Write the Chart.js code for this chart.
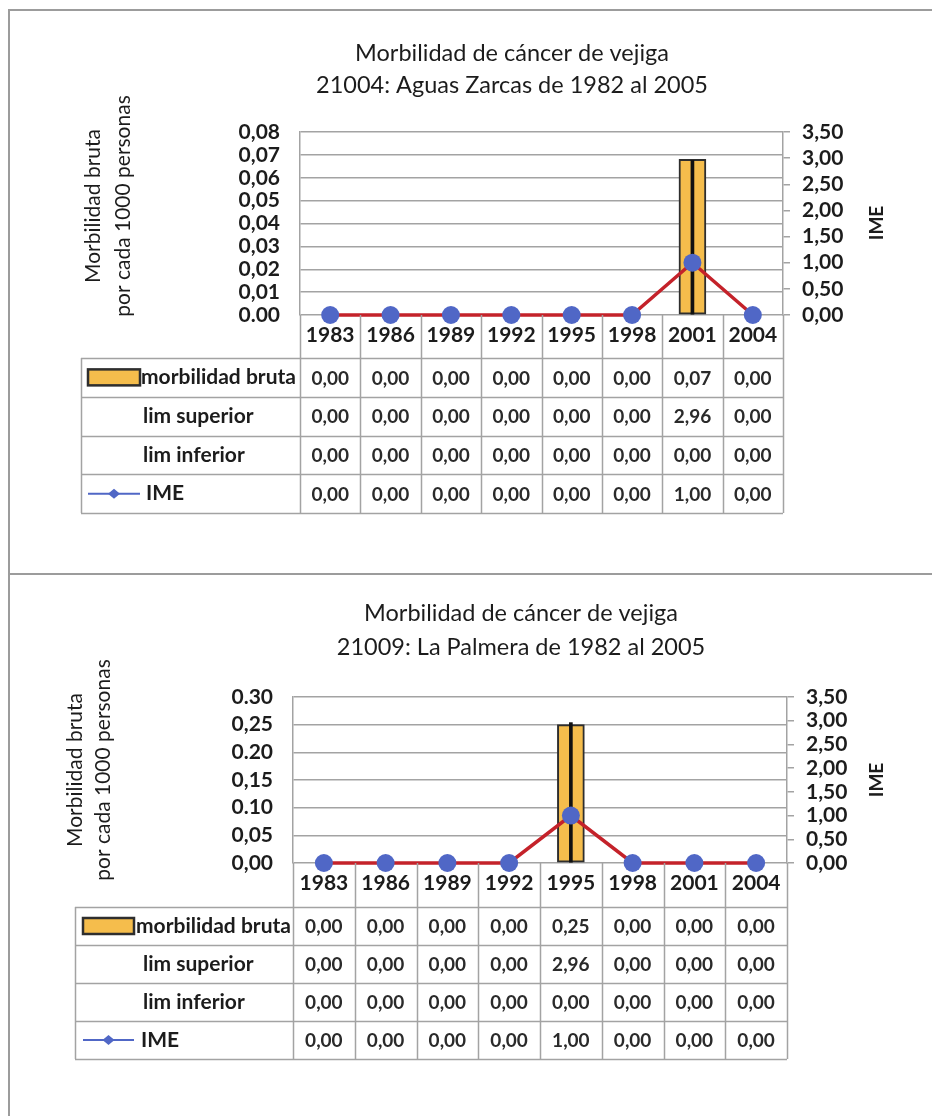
<!DOCTYPE html>
<html>
<head>
<meta charset="utf-8">
<script src="https://cdn.jsdelivr.net/npm/chart.js@4.4.0/dist/chart.umd.min.js"></script>
<style>
  html, body { margin: 0; padding: 0; background: #fff; }
  #page { position: relative; width: 932px; height: 1116px; overflow: hidden; background: #fff; }
  .rule { position: absolute; background: #9c9c9c; }
  canvas { position: absolute; left: 0; }
</style>
</head>
<body>
<div id="page">
  <div class="rule" style="left:8px;top:9px;width:924px;height:2px"></div>
  <div class="rule" style="left:8px;top:9px;width:2px;height:1107px"></div>
  <div class="rule" style="left:8px;top:573px;width:924px;height:2px"></div>
  <canvas id="chartAZ" width="932" height="574" style="top:0"></canvas>
  <canvas id="chartLP" width="932" height="541" style="top:575px"></canvas>
</div>
<script>
// Periods (category axis)
const years = ['1983', '1986', '1989', '1992', '1995', '1998', '2001', '2004'];

// 21004: Aguas Zarcas
const morbAZ = [0, 0, 0, 0, 0, 0, 0.068, 0];
const supAZ  = [0, 0, 0, 0, 0, 0, 2.96, 0];
const infAZ  = [0, 0, 0, 0, 0, 0, 0, 0];
const imeAZ  = [0, 0, 0, 0, 0, 0, 1, 0];

// 21009: La Palmera
const morbLP = [0, 0, 0, 0, 0.25, 0, 0, 0];
const supLP  = [0, 0, 0, 0, 2.96, 0, 0, 0];
const infLP  = [0, 0, 0, 0, 0, 0, 0, 0];
const imeLP  = [0, 0, 0, 0, 1, 0, 0, 0];

// Axis tick labels
const leftTicksAZ = ['0.00', '0,01', '0,02', '0,03', '0,04', '0,05', '0,06', '0,07', '0,08'];
const leftTicksLP = ['0,00', '0,05', '0.10', '0,15', '0.20', '0,25', '0.30'];
const rightTicks  = ['0,00', '0,50', '1,00', '1,50', '2,00', '2,50', '3,00', '3,50'];

const FONT = 'Lato, "Open Sans", sans-serif';
const BAR_FILL = '#f5bd4c';
const BAR_EDGE = '#2e2e2e';
const LINE_RED = '#c4222a';
const DOT_BLUE = '#5067c6';
const GRID = '#a3a3a3';
const INK = '#1c1c1c';

const fmt = v => v.toFixed(2).replace('.', ',');

// Draws titles, axis captions and the data table under the plot
function makeDecor(spec) {
  return {
    id: 'decor',
    afterDraw(chart) {
      const ctx = chart.ctx;
      const area = chart.chartArea;
      const xs = chart.scales.x;
      const half = (xs.getPixelForValue(1) - xs.getPixelForValue(0)) / 2;
      const nRows = spec.rows.length;
      const tableBottom = spec.rowTop + nRows * spec.rowH;

      ctx.save();
      // chart title
      ctx.fillStyle = INK;
      ctx.textAlign = 'center';
      ctx.textBaseline = 'middle';
      ctx.font = '23.5px ' + FONT;
      spec.title.forEach((t, i) => ctx.fillText(t, spec.titleX, spec.titleY[i]));

      // left axis caption (two lines, rotated)
      ctx.font = '21px ' + FONT;
      spec.yTitle.forEach((t, i) => {
        ctx.save();
        ctx.translate(spec.yTitleX[i], spec.yTitleY);
        ctx.rotate(-Math.PI / 2);
        ctx.fillText(t, 0, 0);
        ctx.restore();
      });

      // right axis caption
      ctx.font = 'bold 19px ' + FONT;
      ctx.save();
      ctx.translate(spec.rTitleX, spec.rTitleY);
      ctx.rotate(-Math.PI / 2);
      ctx.fillText('IME', 0, 0);
      ctx.restore();

      // table grid
      ctx.strokeStyle = GRID;
      ctx.lineWidth = 1.5;
      ctx.beginPath();
      for (let i = 0; i <= years.length; i++) {
        const xb = Math.round(xs.getPixelForValue(0) - half + i * 2 * half) + 0.5;
        ctx.moveTo(xb, area.bottom);
        ctx.lineTo(xb, tableBottom);
      }
      for (let r = 0; r <= nRows; r++) {
        const yb = Math.round(spec.rowTop + r * spec.rowH) + 0.5;
        ctx.moveTo(spec.tableLeft, yb);
        ctx.lineTo(area.right, yb);
      }
      ctx.moveTo(spec.tableLeft + 0.5, spec.rowTop);
      ctx.lineTo(spec.tableLeft + 0.5, tableBottom);
      ctx.stroke();

      // rows
      spec.rows.forEach((row, r) => {
        const cy = spec.rowTop + (r + 0.5) * spec.rowH;
        const k0 = spec.tableLeft + spec.keyInset;
        const k1 = k0 + spec.keyWidth;
        if (row.key === 'bar') {
          ctx.fillStyle = BAR_FILL;
          ctx.strokeStyle = BAR_EDGE;
          ctx.lineWidth = 2.5;
          ctx.fillRect(k0, cy - 8, k1 - k0, 16);
          ctx.strokeRect(k0, cy - 8, k1 - k0, 16);
        } else if (row.key === 'line') {
          ctx.strokeStyle = DOT_BLUE;
          ctx.lineWidth = 2;
          ctx.beginPath();
          ctx.moveTo(k0, cy);
          ctx.lineTo(k1, cy);
          ctx.stroke();
          const mx = (k0 + k1) / 2;
          ctx.fillStyle = DOT_BLUE;
          ctx.beginPath();
          ctx.moveTo(mx, cy - 5);
          ctx.lineTo(mx + 6, cy);
          ctx.lineTo(mx, cy + 5);
          ctx.lineTo(mx - 6, cy);
          ctx.closePath();
          ctx.fill();
        }
        ctx.fillStyle = INK;
        ctx.textAlign = 'left';
        ctx.font = 'bold 21px ' + FONT;
        ctx.fillText(row.label, row.labelX, cy);
        ctx.textAlign = 'center';
        ctx.font = 'bold 19px ' + FONT;
        row.values.forEach((v, i) => {
          ctx.fillStyle = '#2a2a2a';
          ctx.fillText(fmt(v), xs.getPixelForValue(i), cy + 1);
        });
      });
      ctx.restore();
    }
  };
}

function buildChart(canvasId, d) {
  const leftTicks = d.leftTicks;
  return new Chart(document.getElementById(canvasId), {
    data: {
      labels: years,
      datasets: [
        {
          type: 'line',
          label: 'IME',
          data: d.ime,
          yAxisID: 'y1',
          borderColor: LINE_RED,
          borderWidth: 3.5,
          pointRadius: 9,
          pointBackgroundColor: DOT_BLUE,
          pointBorderWidth: 0,
          tension: 0,
          clip: false,
          order: 0
        },
        {
          type: 'bar',
          label: 'lim inferior - lim superior',
          data: d.sup.map((s, i) => [d.inf[i], s]),
          yAxisID: 'y1',
          backgroundColor: '#111',
          borderWidth: 0,
          barThickness: 3,
          grouped: false,
          order: 1
        },
        {
          type: 'bar',
          label: 'morbilidad bruta',
          data: d.morb,
          yAxisID: 'y',
          backgroundColor: BAR_FILL,
          borderColor: BAR_EDGE,
          borderWidth: 2,
          borderSkipped: false,
          barThickness: 27,
          grouped: false,
          order: 2
        }
      ]
    },
    options: {
      responsive: false,
      animation: false,
      devicePixelRatio: 1,
      layout: { padding: { top: d.plotTop, left: 0, right: 0, bottom: 0 } },
      plugins: { legend: { display: false }, tooltip: { enabled: false }, title: { display: false } },
      scales: {
        x: {
          type: 'category',
          offset: true,
          grid: { display: false, drawTicks: false },
          border: { display: false },
          ticks: { color: INK, font: { family: FONT, size: 21, weight: 'bold' }, padding: 8, maxRotation: 0, autoSkip: false },
          afterFit: s => { s.height = d.xHeight; }
        },
        y: {
          position: 'left',
          min: 0,
          max: d.leftMax,
          ticks: {
            stepSize: d.leftStep,
            autoSkip: false,
            color: INK,
            padding: 20,
            font: { family: FONT, size: 21, weight: 'bold' },
            callback: (v, i) => leftTicks[i]
          },
          grid: { color: GRID, lineWidth: 1.5, drawTicks: false },
          border: { display: true, color: GRID, width: 1.5 },
          afterFit: s => { s.width = d.leftWidth; }
        },
        y1: {
          position: 'right',
          min: 0,
          max: 3.5,
          ticks: {
            stepSize: 0.5,
            autoSkip: false,
            color: INK,
            padding: 12,
            font: { family: FONT, size: 21, weight: 'bold' },
            callback: (v, i) => rightTicks[i]
          },
          grid: { drawOnChartArea: false, drawTicks: true, tickLength: 7, color: GRID, lineWidth: 1.5 },
          border: { display: true, color: GRID, width: 1.5 },
          afterFit: s => { s.width = d.rightWidth; }
        }
      }
    },
    plugins: [makeDecor(d.decor)]
  });
}

function tableRows(d, labelXs) {
  return [
    { label: 'morbilidad bruta', key: 'bar', values: d.morb, labelX: labelXs[0] },
    { label: 'lim superior', key: null, values: d.sup, labelX: labelXs[1] },
    { label: 'lim inferior', key: null, values: d.inf, labelX: labelXs[1] },
    { label: 'IME', key: 'line', values: d.ime, labelX: labelXs[2] }
  ];
}

const az = { morb: morbAZ, sup: supAZ, inf: infAZ, ime: imeAZ };
const lp = { morb: morbLP, sup: supLP, inf: infLP, ime: imeLP };

buildChart('chartAZ', Object.assign({}, az, {
  leftTicks: leftTicksAZ, leftMax: 0.08, leftStep: 0.01,
  plotTop: 132, xHeight: 574 - 315, leftWidth: 300, rightWidth: 932 - 783,
  decor: {
    title: ['Morbilidad de cáncer de vejiga', '21004: Aguas Zarcas de 1982 al 2005'],
    titleX: 512, titleY: [53, 85],
    yTitle: ['Morbilidad bruta', 'por cada 1000 personas'], yTitleX: [93, 123], yTitleY: 206,
    rTitleX: 877, rTitleY: 223,
    tableLeft: 81, rowTop: 358, rowH: 38.75, keyInset: 7, keyWidth: 52,
    rows: tableRows(az, [141, 143, 146])
  }
}));

buildChart('chartLP', Object.assign({}, lp, {
  leftTicks: leftTicksLP, leftMax: 0.30, leftStep: 0.05,
  plotTop: 122, xHeight: 541 - 288, leftWidth: 293, rightWidth: 932 - 787,
  decor: {
    title: ['Morbilidad de cáncer de vejiga', '21009: La Palmera de 1982 al 2005'],
    titleX: 521, titleY: [38, 72],
    yTitle: ['Morbilidad bruta', 'por cada 1000 personas'], yTitleX: [75, 103], yTitleY: 195,
    rTitleX: 877, rTitleY: 205,
    tableLeft: 75, rowTop: 332, rowH: 38, keyInset: 8, keyWidth: 51,
    rows: tableRows(lp, [136, 143, 141])
  }
}));
</script>
</body>
</html>
